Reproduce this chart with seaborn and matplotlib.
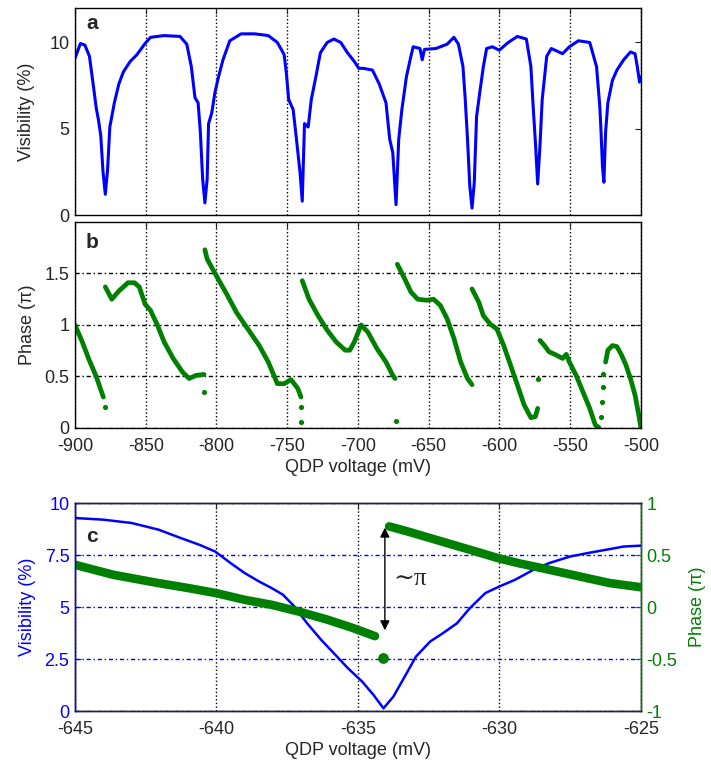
import numpy as np
import pandas as pd
import seaborn as sns
import matplotlib.pyplot as plt

sns.set_style('white')
plt.rcParams['font.family'] = ['Liberation Sans Narrow', 'Liberation Sans', 'DejaVu Sans']
plt.rcParams['axes.unicode_minus'] = False

BLUE = '#0000ff'
GREEN = '#008000'

# panel a: visibility vs QDP voltage
a_volt = [-900, -896.2, -893, -889.8, -887.2, -885, -883.4, -881.8, -880.2, -878.6,
          -877, -875.4, -872.2, -869, -865.8, -861, -856.2, -850.4, -846.6, -837,
          -825.8, -821, -817.8, -815.2, -813, -811.4, -809.8, -808.2, -806.6, -805.6,
          -803.4, -801.1, -798.6, -795.4, -790.6, -782.6, -773, -763.4, -757, -752.2,
          -750.6, -749, -745.8, -743.5, -741, -739.4, -737.8, -735.2, -733, -729.8,
          -726.6, -721.8, -717, -712.2, -707.4, -702.6, -699.4, -696.2, -689.8, -685,
          -680.2, -677.6, -675.4, -673.1, -671.2, -669, -665.8, -662.6, -661, -656.2,
          -654.6, -653, -645, -637, -632.2, -629, -625.8, -624.2, -622.6, -621,
          -619.4, -617.8, -616.2, -613.6, -611.4, -609.1, -605, -600.2, -593.8, -587.4,
          -581, -577.8, -576.2, -574.6, -573, -571.4, -569.8, -566.6, -563.4, -555.4,
          -550.6, -544.2, -536.2, -531.4, -529.1, -528.2, -527.2, -526.2, -525, -523.4,
          -520.2, -517, -512.2, -507.4, -504.2, -502.6, -501, -500]
a_vis = [9.08, 9.94, 9.85, 9.2, 7.6, 6.2, 5.5, 4.6, 2.5, 1.2,
         2.6, 5.1, 6.5, 7.6, 8.3, 8.9, 9.3, 9.95, 10.3, 10.4,
         10.35, 9.9, 8.6, 6.8, 6.5, 4.8, 2.1, 0.7, 2.1, 5.3,
         5.9, 7.1, 8.0, 9.0, 10.1, 10.5, 10.5, 10.4, 10.0, 9.3,
         8.2, 6.7, 6.1, 4.4, 2.5, 0.8, 5.3, 5.1, 6.7, 8.0,
         9.4, 10.0, 10.2, 10.0, 9.4, 8.9, 8.5, 8.5, 8.4, 7.6,
         6.5, 4.4, 3.6, 0.6, 4.4, 6.1, 8.0, 9.2, 9.75, 9.65,
         9.0, 9.6, 9.65, 9.9, 10.3, 9.9, 8.6, 6.7, 4.4, 1.7,
         0.4, 1.9, 5.7, 7.3, 8.6, 9.65, 9.75, 9.55, 10.0, 10.35,
         10.2, 8.6, 6.3, 4.2, 1.8, 4.0, 6.7, 9.2, 9.65, 9.35,
         9.75, 10.1, 10.0, 8.6, 6.3, 4.8, 2.8, 1.9, 4.8, 6.5,
         7.8, 8.4, 9.0, 9.45, 9.35, 8.6, 7.7, 8.0]

# panel b: phase, broken into segments
b_volt = [-900, -895, -890, -885, -880,
          -878.6, -874, -869, -862.6, -858, -854.6, -850.4, -846.6, -841.8, -837, -830.6, -824.2, -819.4, -814.6, -808.8,
          -808.2, -806.6, -800.2, -792.2, -785.8, -777.8, -769.8, -763.4, -757, -752.2, -747.4, -742.6, -740.3,
          -739.4, -734.6, -728.2, -721.8, -715.4, -709, -705.8, -702.6, -697.8, -693, -686.6, -680.2, -675.4, -673.8,
          -672.2, -667.4, -662.6, -657.8, -651.4, -646.6, -641.8, -637, -632.2, -627.4, -622.6, -619.4,
          -619.4, -614.6, -611.4, -606.6, -601.8, -597, -592.2, -587.4, -582.6, -577.8, -574.6, -573,
          -571.4, -568.2, -565, -560.2, -555.4, -552.8, -550.6, -545.8, -541, -536.2, -532.3, -529.8,
          -525, -523.4, -520.2, -517, -513.8, -510.6, -507.4, -504.2, -501.6, -500]
b_phase = [1.0, 0.84, 0.66, 0.5, 0.3,
           1.37, 1.25, 1.33, 1.41, 1.41, 1.37, 1.2, 1.14, 1.0, 0.835, 0.675, 0.546, 0.48, 0.51, 0.52,
           1.73, 1.64, 1.48, 1.285, 1.12, 0.96, 0.80, 0.64, 0.43, 0.43, 0.47, 0.385, 0.3,
           1.43, 1.25, 1.09, 0.95, 0.835, 0.755, 0.755, 0.835, 1.0, 0.93, 0.77, 0.64, 0.51, 0.48,
           1.59, 1.46, 1.32, 1.25, 1.24, 1.25, 1.19, 1.06, 0.87, 0.64, 0.48, 0.42,
           1.35, 1.22, 1.09, 1.01, 0.96, 0.80, 0.61, 0.42, 0.225, 0.10, 0.11, 0.19,
           0.85, 0.80, 0.74, 0.71, 0.675, 0.715, 0.64, 0.51, 0.35, 0.19, 0.03, 0.005,
           0.64, 0.755, 0.80, 0.79, 0.71, 0.61, 0.48, 0.32, 0.13, 0.0]
b_seg = [1] * 5 + [2] * 15 + [3] * 13 + [4] * 14 + [5] * 12 + [6] * 12 + [7] * 12 + [8] * 10
b_iso_volt = [-878.6, -808.5, -740.2, -740, -672.8, -573, -526.5, -527, -527.5, -528]
b_iso_phase = [0.2, 0.35, 0.2, 0.06, 0.07, 0.48, 0.52, 0.40, 0.25, 0.11]

# panel c: zoom around -634 mV
c_volt = [-645, -644, -643, -642.05, -641.25, -640.6, -640.05, -639.5, -639, -638.5,
          -638.05, -637.65, -637.25, -636.8, -636.3, -635.8, -635.35, -634.85, -634.45, -634.1,
          -633.75, -633.35, -632.95, -632.45, -632, -631.5, -631.05, -630.5, -630, -629.45,
          -628.8, -628.25, -627.5, -626.9, -626.25, -625.6, -625]
c_vis = [9.28, 9.2, 9.04, 8.72, 8.31, 7.99, 7.67, 7.11, 6.63, 6.23,
         5.91, 5.59, 5.03, 4.22, 3.42, 2.70, 2.05, 1.41, 0.77, 0.13,
         0.69, 1.65, 2.62, 3.34, 3.74, 4.22, 4.94, 5.67, 5.99, 6.31,
         6.79, 7.11, 7.43, 7.59, 7.75, 7.91, 7.95]
c_ph_volt = [-645, -643.65, -642.05, -640.95, -640, -639, -638.05, -637.1, -636.1, -635.2, -634.4,
             -633.9, -633.25, -632.45, -631.65, -630.85, -630.05, -629.3, -628.5, -627.7, -626.9, -626.1, -625]
c_phase = [0.406, 0.31, 0.23, 0.18, 0.133, 0.069, 0.021, -0.043, -0.12, -0.20, -0.28,
           0.775, 0.727, 0.663, 0.599, 0.535, 0.47, 0.42, 0.374, 0.326, 0.278, 0.23, 0.19]
c_ph_seg = [1] * 11 + [2] * 12
c_iso_volt = [-634.1]
c_iso_phase = [-0.49]

df_a = pd.DataFrame({'volt': a_volt, 'vis': a_vis})
df_b = pd.DataFrame({'volt': b_volt, 'phase': b_phase, 'seg': b_seg})
df_c = pd.DataFrame({'volt': c_volt, 'vis': c_vis})
df_cp = pd.DataFrame({'volt': c_ph_volt, 'phase': c_phase, 'seg': c_ph_seg})

fig = plt.figure(figsize=(7.11, 7.66), dpi=100)
ax_a = fig.add_axes([0.1055, 0.7193, 0.796, 0.2703])
ax_b = fig.add_axes([0.1055, 0.4413, 0.796, 0.2689])
ax_c = fig.add_axes([0.1055, 0.0718, 0.796, 0.2715])
ax_c2 = ax_c.twinx()

FS = 13
dashdot = (0, (3, 2, 1, 2))

# --- a
sns.lineplot(data=df_a, x='volt', y='vis', ax=ax_a, color=BLUE, lw=2.2, sort=False, estimator=None)
ax_a.set_xlim(-900, -500)
ax_a.set_ylim(0, 12)
ax_a.set_xticks(np.arange(-900, -499, 50))
ax_a.set_xticklabels([])
ax_a.set_yticks([0, 5, 10])
ax_a.set_xlabel('')
ax_a.set_ylabel('Visibility (%)', fontsize=FS, labelpad=10)
ax_a.xaxis.grid(True, ls=':', color='k', lw=1)
ax_a.text(-888, 11.1, 'a', fontsize=FS + 2, fontweight='bold', ha='center', va='center')

# --- b
sns.lineplot(data=df_b, x='volt', y='phase', units='seg', estimator=None, sort=False,
             ax=ax_b, color=GREEN, lw=3.4, solid_capstyle='round')
sns.scatterplot(x=b_iso_volt, y=b_iso_phase, ax=ax_b, color=GREEN, s=14, linewidth=0)
ax_b.set_xlim(-900, -500)
ax_b.set_ylim(0, 2)
ax_b.set_xticks(np.arange(-900, -499, 50))
ax_b.set_yticks([0, 0.5, 1, 1.5])
ax_b.set_yticklabels(['0', '0.5', '1', '1.5'])
ax_b.set_xlabel('QDP voltage (mV)', fontsize=FS, labelpad=3)
ax_b.set_ylabel('Phase (\u03c0)', fontsize=FS, labelpad=6)
ax_b.xaxis.grid(True, ls=':', color='k', lw=1)
ax_b.yaxis.grid(True, ls=dashdot, color='k', lw=1)
ax_b.text(-888, 1.8, 'b', fontsize=FS + 2, fontweight='bold', ha='center', va='center')

for ax in (ax_a, ax_b):
    ax.tick_params(direction='in', top=True, right=True, length=4, labelsize=FS, pad=4)
    ax.tick_params(axis='x', pad=7)
    for sp in ax.spines.values():
        sp.set_color('k')
        sp.set_linewidth(1)
    ax.set_axisbelow(True)

# --- c
sns.lineplot(data=df_c, x='volt', y='vis', ax=ax_c, color=BLUE, lw=1.8, sort=False, estimator=None)
sns.lineplot(data=df_cp, x='volt', y='phase', units='seg', estimator=None, sort=False,
             ax=ax_c2, color=GREEN, lw=6.2, solid_capstyle='round')
sns.scatterplot(x=c_iso_volt, y=c_iso_phase, ax=ax_c2, color=GREEN, s=60, linewidth=0)
ax_c.set_xlim(-645, -625)
ax_c.set_ylim(0, 10)
ax_c2.set_ylim(-1, 1)
ax_c.set_xticks([-645, -640, -635, -630, -625])
ax_c.set_yticks([0, 2.5, 5, 7.5, 10])
ax_c.set_yticklabels(['0', '2.5', '5', '7.5', '10'])
ax_c2.set_yticks([-1, -0.5, 0, 0.5, 1])
ax_c2.set_yticklabels(['-1', '-0.5', '0', '0.5', '1'])
ax_c.set_xlabel('QDP voltage (mV)', fontsize=FS, labelpad=3)
ax_c.set_ylabel('Visibility (%)', fontsize=FS, color=BLUE, labelpad=6)
ax_c2.set_ylabel('Phase (\u03c0)', fontsize=FS, color=GREEN, rotation=90, labelpad=8)
ax_c.xaxis.grid(True, ls=':', color='k', lw=1)
ax_c.yaxis.grid(True, ls=dashdot, color=BLUE, lw=1)
ax_c.tick_params(axis='x', direction='in', top=True, length=4, labelsize=FS, pad=7)
ax_c.tick_params(axis='y', direction='in', length=4, labelsize=FS, colors=BLUE, pad=4)
ax_c2.tick_params(axis='y', direction='in', length=4, labelsize=FS, colors=GREEN, pad=4)
for sp in ax_c.spines.values():
    sp.set_linewidth(1)
    sp.set_color('k')
ax_c2.spines['left'].set_color(BLUE)
ax_c2.spines['right'].set_color(GREEN)
for sp in ax_c2.spines.values():
    sp.set_linewidth(1)

ax_c2.annotate('', xy=(-634.05, 0.79), xytext=(-634.05, -0.25),
               arrowprops=dict(arrowstyle='<|-|>', color='k', lw=1, mutation_scale=14))
ax_c2.text(-633.75, 0.27, '\u223c\u03c0', fontsize=18, family=['Liberation Serif', 'DejaVu Serif'],
           ha='left', va='center')
ax_c2.text(-644.4, 0.68, 'c', fontsize=FS + 2, fontweight='bold', ha='center', va='center')

fig.savefig('out.png', dpi=100)
